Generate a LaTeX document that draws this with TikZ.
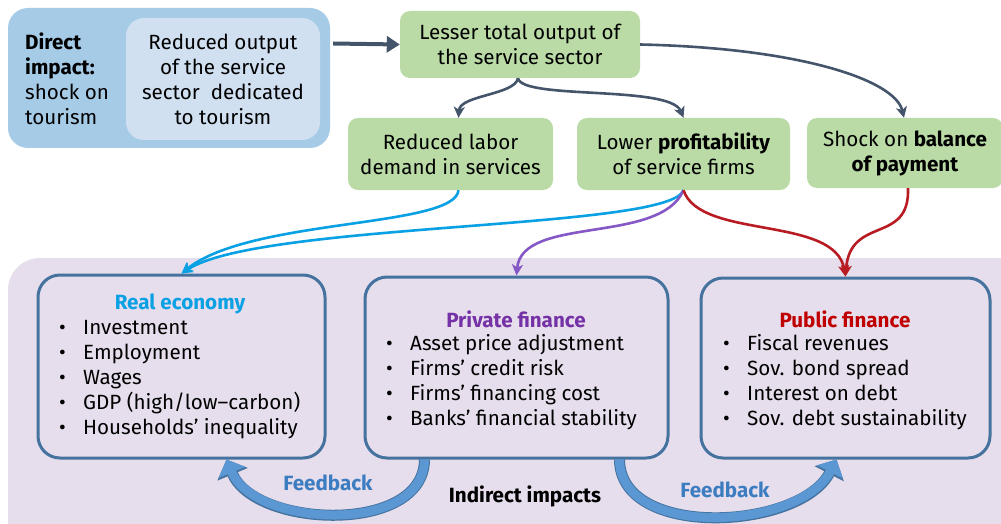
\documentclass[tikz,border=0pt]{standalone}
\usepackage{fontspec}
\setmainfont{Fira Sans}
\usetikzlibrary{arrows.meta,calc,positioning}
\definecolor{outblue}{HTML}{A6CBE7}
\definecolor{inblue}{HTML}{D0E0F1}
\definecolor{grn}{HTML}{BADBA6}
\definecolor{slate}{HTML}{44546A}
\definecolor{bgpurple}{HTML}{E6DEEC}
\definecolor{frame}{HTML}{45729F}
\definecolor{cyanln}{HTML}{0AA0E4}
\definecolor{purpln}{HTML}{8558C6}
\definecolor{redln}{HTML}{B81C22}
\definecolor{purptxt}{HTML}{7532A6}
\definecolor{redtxt}{HTML}{C00000}
\definecolor{fbfill}{HTML}{5A97D3}
\definecolor{fbtxt}{HTML}{3C7CC0}
\tikzset{
  gbox/.style={fill=grn, rounded corners=10pt, align=center, inner sep=0pt},
  fbox/.style={draw=frame, line width=3pt, rounded corners=22pt, inner sep=0pt},
  lst/.style={align=left, anchor=west, inner sep=0pt},
  bf/.style={font=\fontsize{20.6}{25}\selectfont\bfseries},
  conn/.style={line width=2.6pt, -{Stealth[length=11pt,width=11pt,inset=3pt]}},
  fb/.style={line width=9pt, fbfill, -{Triangle[length=14pt,width=28pt]},
    preaction={draw=frame, line width=11pt, -{Triangle[length=16pt,width=32pt]}}}
}
\newcommand{\itm}{\makebox[24pt][l]{\textbullet}}
\begin{document}
\begin{tikzpicture}[x=1pt,y=-1pt,font=\fontsize{20.6}{25}\selectfont]
\useasboundingbox (0,0) rectangle (1001,524);
\begin{scope}
\clip (0,0) rectangle (1001,524);
\fill[bgpurple, rounded corners=32pt] (8,258) rectangle (1030,560);
\end{scope}
\node[fill=outblue, rounded corners=20pt, minimum width=322pt, minimum height=140pt] (dir) at (169,78) {};
\node[fill=inblue, rounded corners=18pt, minimum width=194pt, minimum height=122pt, align=center] (tour) at (223,79) {Reduced output\\of the service\\sector\ \ dedicated\\to tourism};
\node[lst] (dlab) at (25,79) {\textbf{Direct}\\\textbf{impact:}\\shock on\\tourism};
\node[gbox, minimum width=240pt, minimum height=67pt] (tot) at (520,44.5) {Lesser total output of\\the service sector};
\node[gbox, minimum width=205pt, minimum height=72pt] (lab) at (450.5,154) {Reduced labor\\demand in services};
\node[gbox, minimum width=213pt, minimum height=72pt] (prof) at (683.5,154) {Lower \textbf{profitability}\\of service firms};
\node[gbox, minimum width=196pt, minimum height=70pt] (bop) at (905,153) {Shock on \textbf{balance}\\\textbf{of payment}};
\node[fbox, minimum width=287pt, minimum height=183pt] (real) at (181.5,366.5) {};
\node[fbox, minimum width=303pt, minimum height=181pt] (priv) at (516.5,367.5) {};
\node[fbox, minimum width=289pt, minimum height=180pt] (pub) at (845.5,368) {};
\node[bf, text=cyanln] (t1) at (180,304) {Real economy};
\node[bf, text=purptxt] (t2) at (516,319) {Private finance};
\node[bf, text=redtxt] (t3) at (845,319) {Public finance};
\node[lst] (l1) at (59,380) {\itm Investment\\\itm Employment\\\itm Wages\\\itm GDP (high/low\textendash carbon)\\\itm Households’ inequality};
\node[lst] (l2) at (386,382) {\itm Asset price adjustment\\\itm Firms’ credit risk\\\itm Firms’ financing cost\\\itm Banks’ financial stability};
\node[lst] (l3) at (723,382) {\itm Fiscal revenues\\\itm Sov. bond spread\\\itm Interest on debt\\\itm Sov. debt sustainability};
\node[bf] (ind) at (525,496) {Indirect impacts};
\node[bf, text=fbtxt] (f1) at (328,483) {Feedback};
\node[bf, text=fbtxt] (f2) at (725,490) {Feedback};
\draw[conn, slate, line width=4pt, -{Triangle[length=13pt,width=16pt]}] (dir.east |- tot) ++(3,-1) -- (tot.west);
\draw[conn, slate] ([xshift=-2pt]tot.south) .. controls (515,95) and (460,95) .. ([xshift=8pt]lab.north);
\draw[conn, slate] ([xshift=-2pt]tot.south) .. controls (522,100) and (670,85) .. (prof.north);
\draw[conn, slate] (tot.east) .. controls (800,48) and (895,80) .. ([xshift=-1pt]bop.north);
\draw[conn, cyanln] ([xshift=8pt]lab.south) .. controls (455,228) and (250,218) .. (real.north);
\draw[conn, cyanln] (prof.south) .. controls (670,230) and (260,222) .. (real.north);
\draw[conn, purpln] (prof.south) .. controls (660,245) and (522,215) .. (priv.north);
\draw[conn, redln] (prof.south) .. controls (700,240) and (835,215) .. (pub.north);
\draw[conn, redln] ([xshift=3pt]bop.south) .. controls (910,245) and (850,215) .. (pub.north);
\draw[fb] ([xshift=-92pt]priv.south) .. controls (424,535) and (255,528) .. ([xshift=45pt]real.south);
\draw[fb] ([xshift=103pt]priv.south) .. controls (620,540) and (800,530) .. ([xshift=-9pt]pub.south);
\end{tikzpicture}
\end{document}
